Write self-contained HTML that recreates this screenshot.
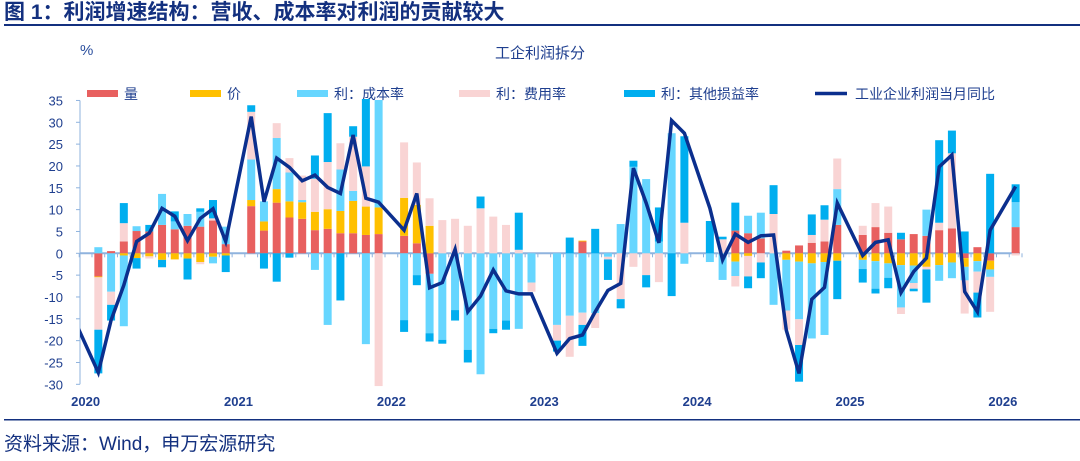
<!DOCTYPE html>
<html><head><meta charset="utf-8"><style>
body{margin:0;background:#fff;}
svg text{font-family:"Liberation Sans","Noto Sans CJK SC",sans-serif;}
</style></head><body>
<svg id="chart" width="1080" height="456" viewBox="0 0 1080 456" xmlns="http://www.w3.org/2000/svg">
<text x="4" y="19" font-size="21" font-weight="bold" fill="#13307F">图 1：利润增速结构：营收、成本率对利润的贡献较大</text>
<rect x="4" y="24" width="1076" height="2" fill="#13307F"/>
<text x="80" y="55" font-size="15" fill="#2B4F9E">%</text>
<text x="540" y="58" font-size="15" fill="#1F3F8F" text-anchor="middle">工企利润拆分</text>
<g id="legend"></g>
<g id="axes"></g>
<defs><clipPath id="pc"><rect x="80" y="99" width="945" height="300"/></clipPath></defs>
<g id="bars" clip-path="url(#pc)"></g>
<g id="lineg" clip-path="url(#pc)"></g>
<rect x="4" y="419" width="1076" height="1.5" fill="#13307F"/>
<text x="4" y="450" font-size="19" fill="#13307F">资料来源：Wind，申万宏源研究</text>
</svg>
<script>
// months from 2019-12 through 2026-02 (index 0 = 2019-12)
const years = ["2020","2021","2022","2023","2024","2025","2026"];
const yTicks = [35,30,25,20,15,10,5,0,-5,-10,-15,-20,-25,-30];
const seriesNames = ["量","价","利：成本率","利：费用率","利：其他损益率"];
const lineName = "工业企业利润当月同比";
const volume = [null,
 null,-5.3,0.5,2.7,5.1,5,6.5,5.5,6.3,6.1,7.5,2.1,
 null,10.8,5.2,11.6,8.2,7.9,5.3,5.6,4.6,4.6,4.2,4.4,
 null,4,2.3,-4.7,0,0,0,0,0,0,0,0,
 null,0,0,2.7,0,0,0,0,0,0,0,0,
 null,0,0,5.2,4.6,3.4,0,0.6,1.8,2.4,2.7,6.5,
 null,4.2,6,4.7,3.2,4.4,4,5.3,5.7,-1.1,1.4,-1.7,
 null,6];
const price = [null,
 null,-0.2,0,-0.5,-1.1,-0.7,-1.5,-1.4,-1.2,-2,-0.8,-0.5,
 null,1.4,2.1,3.1,3.7,3.8,4.2,4.5,5.1,7.4,6.5,6.1,
 null,8.7,8.8,6.3,0,0,0,0,0,0,0,0,
 null,0,0,0.2,0,0,0,0,0,0,0,0,
 null,0,0,-1.9,-0.6,0,0,-1.5,-1.9,-2.3,-2,-1.7,
 null,-1.5,-1.8,-2.3,-2.7,-2.8,-3.1,-2.7,-2.1,-2,-1.8,-2,
 null,0];
const costRate = [null,
 null,1.4,-8.8,-16.2,1.1,0,7.1,1.8,2.7,3.4,-1.5,4,
 null,9.3,4.6,11.7,6.6,0.5,-3.8,-16.4,9.5,2.3,-20.8,24.6,
 null,-15.3,-5,-13.6,-19.8,-13,-22.1,-27.7,-17.3,-15.4,-17.3,-6.7,
 null,-16.4,-14.3,-13.6,-13.7,-0.8,6.7,19.8,17,2.7,27.5,-2.4,
 null,-2,-6.1,-3.3,4,5.9,-11.8,-11.6,-13.2,-17.2,-16.7,8.2,
 null,-2.1,-6.3,-3.3,-9.7,-4,6,-3.6,-3.6,-3.1,-2.4,-1.7,
 null,5.7];
const feeRate = [null,
 null,-12,-3,4.2,0,-0.5,0,0,0,-0.5,0.5,0,
 null,10.9,0,3.4,3.3,5.6,7.6,10.8,6,12.4,9.2,-30.4,
 null,12.7,9.7,6.3,7.6,7.9,6.3,10.3,8.4,6.5,0.8,-2.1,
 null,-3.6,-9.4,-2.8,-3.4,-0.6,-10.5,-3.1,-5,-6.6,0,7,
 null,0,3.2,-2.4,-4.7,-2.1,9,-4.4,-5.9,1.8,5,7,
 null,2.1,5.5,6,-1.5,-1.3,-0.6,1.7,17.2,-7.6,-4.8,-8,
 null,-0.5];
const otherRate = [null,
 null,-10,-3.6,4.6,-2.4,1.5,-1.7,2.3,-4.8,0.8,4.2,-3.8,
 null,1.5,-3.5,-6.5,-1,0,5.3,11.2,-10.8,2.4,19.8,0,
 null,-2.7,-2.3,-1.9,-0.9,-2.4,-2.9,2.7,-1,-2.1,8.5,0,
 null,-2.5,3.6,-4.8,5.6,-4.7,-2.1,1.4,-2.8,7.8,-9.8,19.8,
 null,7.4,0.6,6.4,-2.7,-3.6,6.6,0,-8.4,4.7,3.3,-8.8,
 null,-3.1,-1.1,-2.4,1.5,-0.6,-7.6,18.9,5.2,5,-5.7,18.2,
 null,4.1];
const profitYoY = [-14.5,
 null,-27.3,-15.3,-7.3,2.7,4.6,10.3,8.5,2.9,8,10.2,2.7,
 null,31.3,11.8,21.8,19.7,16.6,17.9,15.1,13.7,27.1,12.6,11.7,
 null,5.3,13.7,-7.9,-6.7,0.9,-13.4,-9.8,-3.8,-8.6,-9.3,-9.3,
 null,-22.9,-19.5,-18.7,-13.4,-8.5,-6.9,19.5,11.5,2.4,30.4,27.5,
 null,10.3,-1.5,4.4,2.5,4,4.2,-17.6,-27.5,-10.5,-7.8,11.5,
 null,-0.5,2.5,3.1,-9,-4.2,-1.1,19.8,22.5,-8.8,-13.4,5.3,
 null,15.3];

const NS="http://www.w3.org/2000/svg";
const colors=["#E8605F","#FFC000","#66D6FF","#F9D4D4","#00AEEF"];
const X0=85.6, DX=12.74, Y0=253.3, DY=4.367;
function xOf(i){return X0+DX*(i-1);}
function yOf(v){return Y0-DY*v;}
function mk(tag,attrs,parent){const e=document.createElementNS(NS,tag);for(const k in attrs)e.setAttribute(k,attrs[k]);parent.appendChild(e);return e;}
const axes=document.getElementById('axes'), bars=document.getElementById('bars'), lg=document.getElementById('lineg'), leg=document.getElementById('legend');
const AC="#8FB3DE";
let ya=mk('line',{x1:80,y1:yOf(35),x2:80,y2:yOf(-30),stroke:AC,'stroke-width':1},axes);


yTicks.forEach(t=>{
  let tk=mk('line',{x1:76,y1:yOf(t),x2:80,y2:yOf(t),stroke:AC},axes);
  
  
  let tx=mk('text',{x:63,y:yOf(t)+5,'font-size':13,'text-anchor':'end',fill:'#1F3F8F'},axes);
  tx.textContent=t;
  
  
});
let za=mk('line',{x1:80,y1:Y0,x2:1020,y2:Y0,stroke:AC,'stroke-width':2},axes);


for(let i=1;i<profitYoY.length+1;i++){
  let tk=mk('line',{x1:xOf(i)-DX/2,y1:Y0,x2:xOf(i)-DX/2,y2:Y0+4,stroke:AC},axes);
  
  
}
years.forEach((y,j)=>{
  let tx=mk('text',{x:xOf(1+12*j),y:406,'font-size':13,'font-weight':'bold','text-anchor':'middle',fill:'#1F3F8F'},axes);
  tx.textContent=y;
  
  
});
const series=[volume,price,costRate,feeRate,otherRate];
const barNames=['bar-volume','bar-price','bar-cost-rate','bar-fee-rate','bar-other-rate'];
for(let i=0;i<volume.length;i++){
  let pos=0,neg=0;
  series.forEach((s,si)=>{
    const v=s[i]; if(v==null||v===0) return;
    let a,b; if(v>0){a=pos;b=pos+v;pos=b;}else{a=neg;b=neg+v;neg=b;}
    const r=mk('rect',{x:xOf(i)-4,y:Math.min(yOf(a),yOf(b)),width:8,height:Math.abs(yOf(a)-yOf(b)),fill:colors[si]},bars);
    
    
  });
}
let d='';profitYoY.forEach((v,i)=>{if(v==null)return;d+=(d?'L':'M')+xOf(i).toFixed(1)+','+yOf(v).toFixed(1);});
const pl=mk('path',{d:d,fill:'none',stroke:'#0B2F8E','stroke-width':3.5,'stroke-linejoin':'miter'},lg);


const legX=[87,190,297,459,624];
seriesNames.forEach((n,i)=>{
  const r=mk('rect',{x:legX[i],y:90,width:31,height:7,fill:colors[i]},leg);
  
  
  const t=mk('text',{x:legX[i]+37,y:99,'font-size':14,fill:'#1F3F8F'},leg);
  t.textContent=n;
  
  
});
const ll=mk('line',{x1:815,y1:93.5,x2:847,y2:93.5,stroke:'#0B2F8E','stroke-width':3.5},leg);


const lt=mk('text',{x:855,y:99,'font-size':14,fill:'#1F3F8F'},leg);
lt.textContent=lineName;


</script>
</body></html>
